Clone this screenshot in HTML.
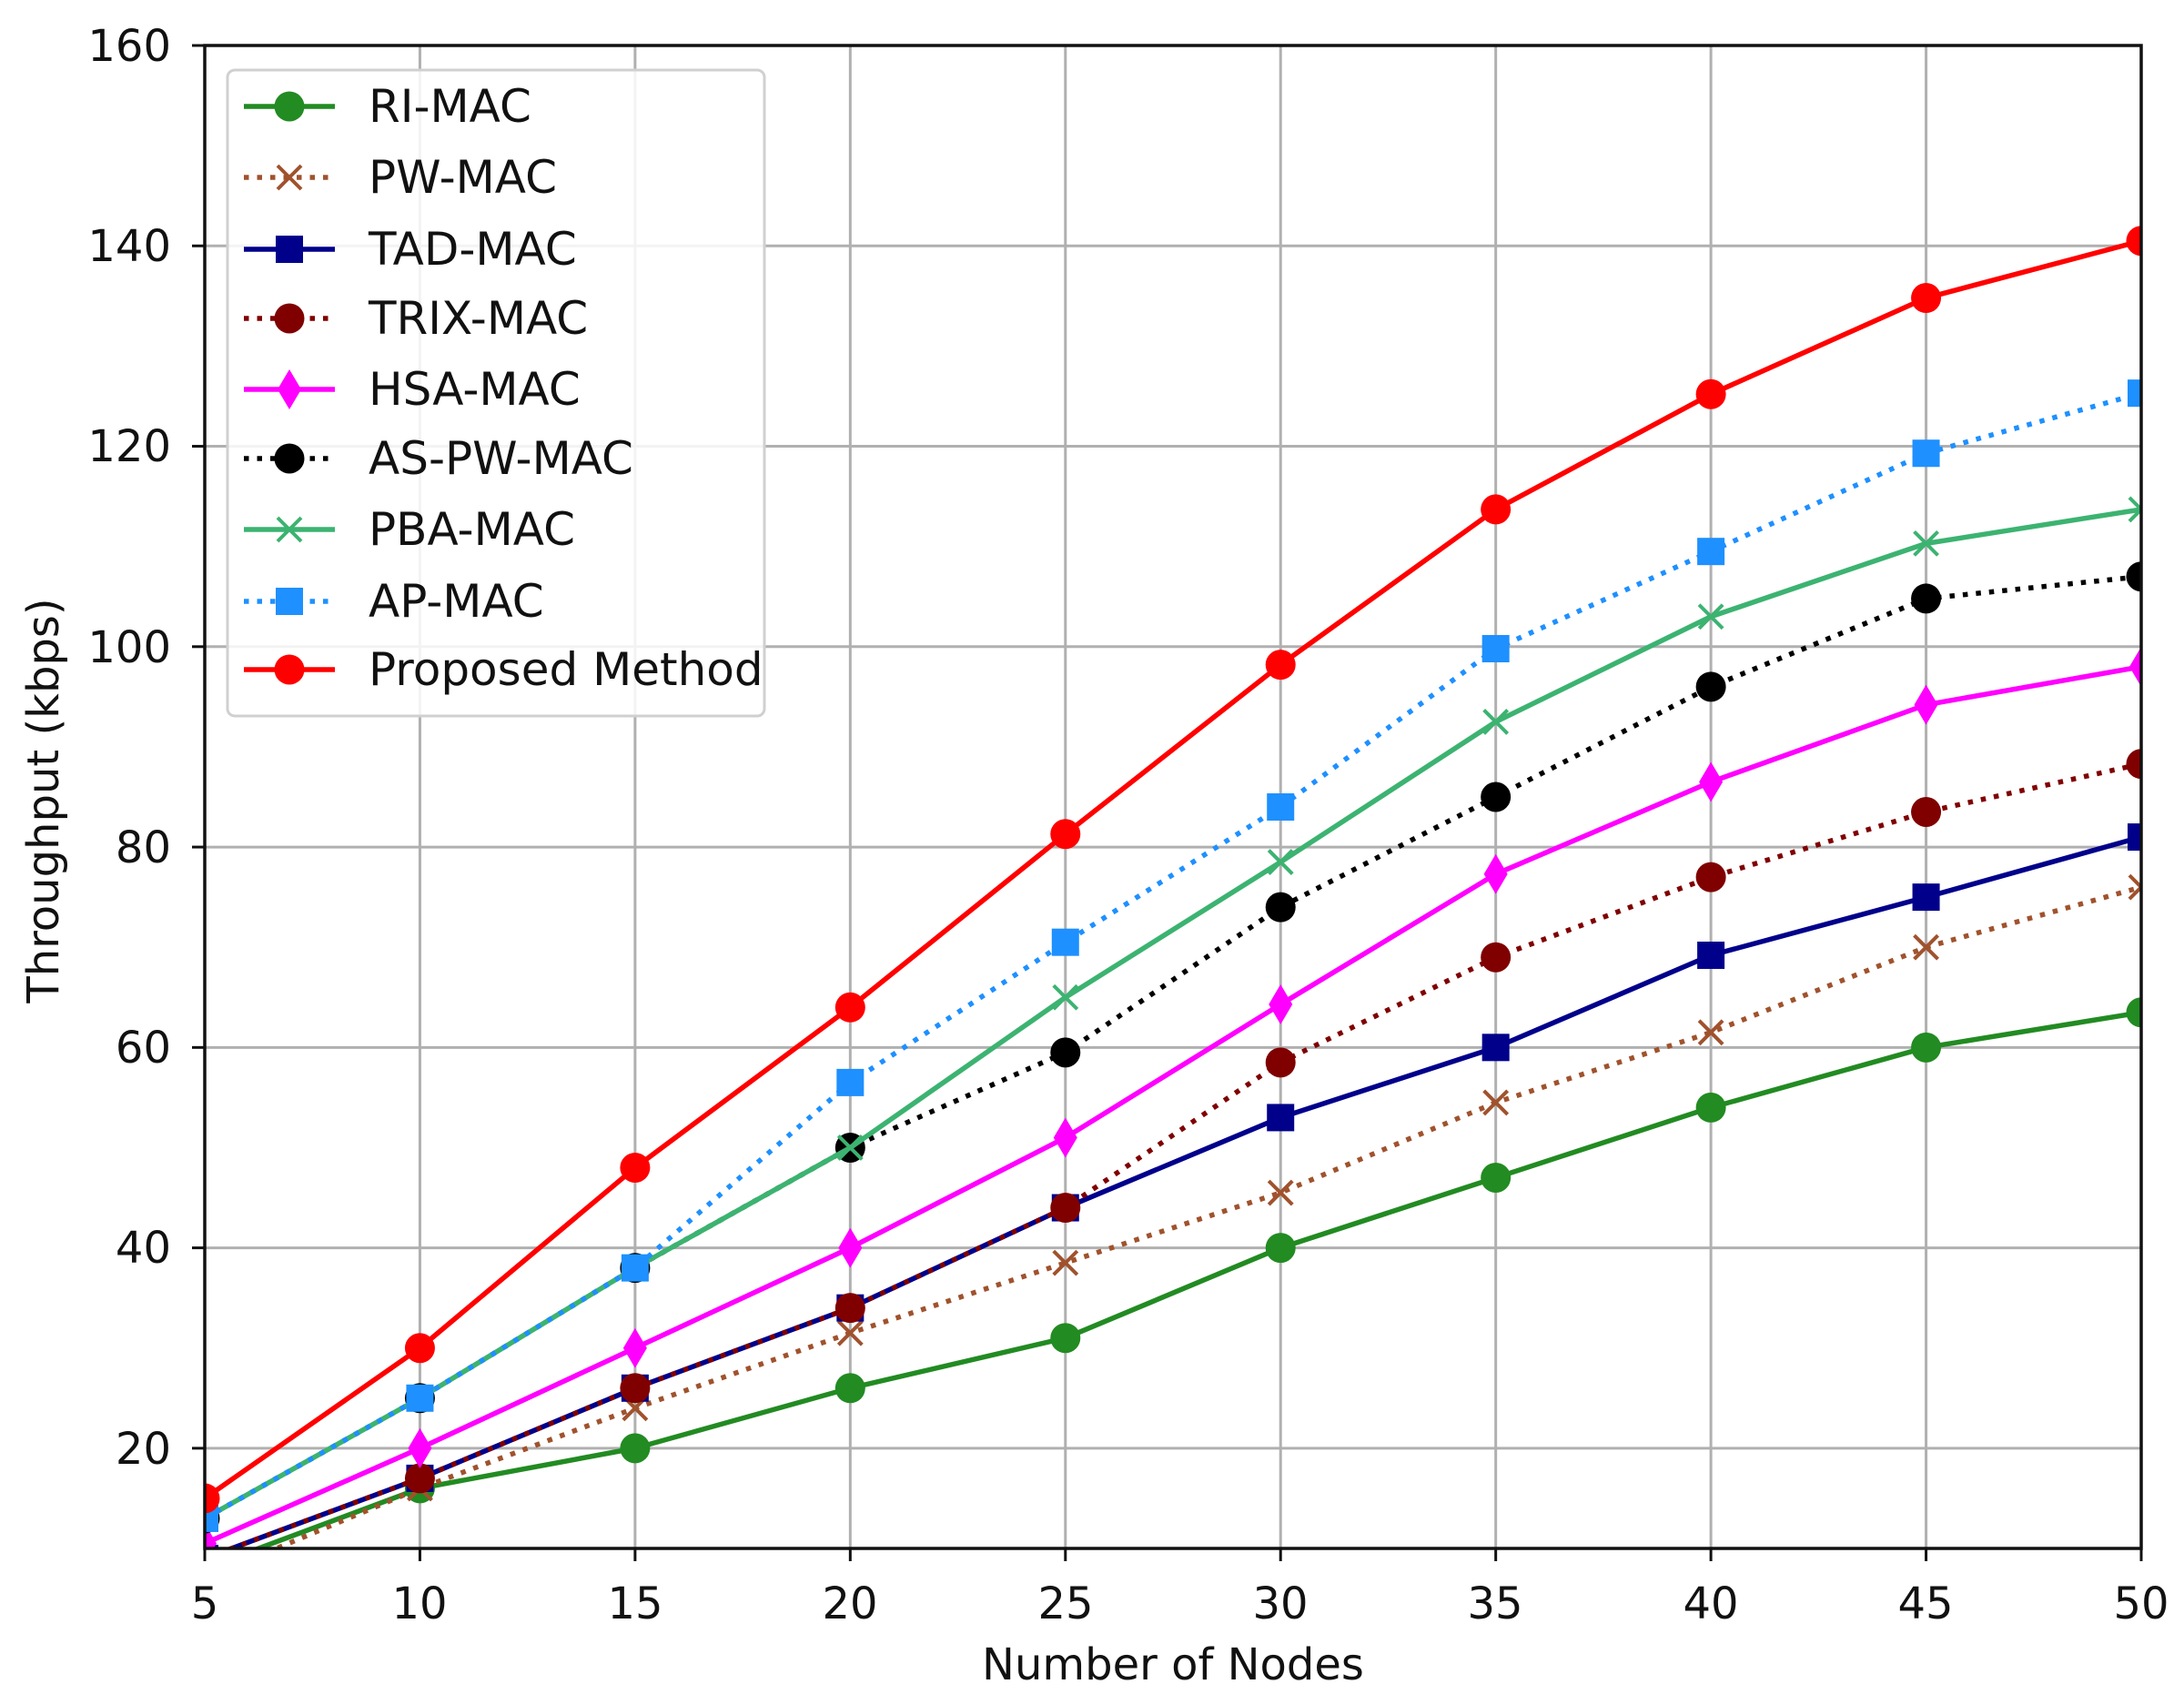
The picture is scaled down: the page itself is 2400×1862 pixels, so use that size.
<!DOCTYPE html>
<html><head><meta charset="utf-8"><style>
html,body{margin:0;padding:0;background:#fff}
svg{display:block}
text{font-family:"DejaVu Sans","Liberation Sans",sans-serif;fill:#111}
</style></head><body>
<svg id="s" width="2400" height="1862" viewBox="0 0 2400 1862" xmlns="http://www.w3.org/2000/svg">
<defs><clipPath id="c"><rect x="225" y="50" width="2128" height="1652"/></clipPath></defs>
<g id="grid" stroke="#b0b0b0" stroke-width="3"></g>
<g id="series" clip-path="url(#c)"></g>
<rect x="225" y="50" width="2128" height="1652" fill="none" stroke="#111" stroke-width="3.5"/>
<g id="ticks" stroke="#111" stroke-width="3"></g>
<g font-size="48" text-anchor="end">
<text x="188" y="67">160</text><text x="188" y="287">140</text><text x="188" y="507">120</text>
<text x="188" y="728">100</text><text x="188" y="948">80</text><text x="188" y="1168">60</text>
<text x="188" y="1388">40</text><text x="188" y="1609">20</text>
</g>
<g font-size="48" text-anchor="middle">
<text x="225" y="1779">5</text><text x="461" y="1779">10</text><text x="698" y="1779">15</text>
<text x="934" y="1779">20</text><text x="1171" y="1779">25</text><text x="1407" y="1779">30</text>
<text x="1643" y="1779">35</text><text x="1880" y="1779">40</text><text x="2116" y="1779">45</text>
<text x="2353" y="1779">50</text>
</g>
<text x="1289" y="1846" font-size="48" text-anchor="middle">Number of Nodes</text>
<text x="0" y="0" font-size="48" text-anchor="middle" transform="translate(64,880) rotate(-90)">Throughput (kbps)</text>
<rect x="250" y="77" width="590" height="710" rx="8" fill="#fff" fill-opacity="0.85" stroke="#d0d0d0" stroke-width="3"/>
<g id="leg"></g>
<g font-size="50">
<text x="405" y="134">RI-MAC</text><text x="405" y="212">PW-MAC</text><text x="405" y="291">TAD-MAC</text>
<text x="405" y="367">TRIX-MAC</text><text x="405" y="445">HSA-MAC</text><text x="405" y="521">AS-PW-MAC</text>
<text x="405" y="599">PBA-MAC</text><text x="405" y="678">AP-MAC</text><text x="405" y="753">Proposed Method</text>
</g>
</svg>
<script>
const NS="http://www.w3.org/2000/svg";
const X=n=>225+(n-5)*2128/45, Y=v=>1702-(v-10)*1652/150;
function el(p,t,a){const e=document.createElementNS(NS,t);for(const k in a)e.setAttribute(k,a[k]);p.appendChild(e);return e;}
const g=document.getElementById('grid'),tk=document.getElementById('ticks');
for(let n=5;n<=50;n+=5){el(g,'line',{x1:X(n),x2:X(n),y1:50,y2:1702});el(tk,'line',{x1:X(n),x2:X(n),y1:1702,y2:1716});}
for(let v=20;v<=160;v+=20){el(g,'line',{x1:225,x2:2353,y1:Y(v),y2:Y(v)});el(tk,'line',{x1:211,x2:225,y1:Y(v),y2:Y(v)});}
const N=[5,10,15,20,25,30,35,40,45,50];
const S=[
['#228B22',0,'o',[8,16,20,26,31,40,47,54,60,63.5]],
['#A0522D',1,'x',[7,16,24,31.5,38.5,45.5,54.5,61.5,70,76]],
['#00008B',0,'s',[9,17,26,34,44,53,60,69.2,75,81]],
['#800000',1,'o',[9,17,26,34,44,58.5,69,77,83.5,88.3]],
['#FF00FF',0,'d',[10.5,20,30,40,51,64.3,77.3,86.5,94.2,98]],
['#000000',1,'o',[13,25,38,50,59.5,74,85,96,104.8,107]],
['#3CB371',0,'x',[13,25,38,50,65,78.5,92.5,103,110.3,113.7]],
['#1E90FF',1,'s',[13,25,38,56.5,70.5,84,99.8,109.5,119.3,125.3]],
['#FF0000',0,'o',[15,30,48,64,81.3,98.2,113.7,125.2,134.8,140.5]]];
function mk(p,c,m,x,y){
 if(m=='o')el(p,'circle',{cx:x,cy:y,r:16.5,fill:c});
 else if(m=='s')el(p,'rect',{x:x-15,y:y-15,width:30,height:30,fill:c});
 else if(m=='d')el(p,'polygon',{points:`${x},${y-22} ${x+13},${y} ${x},${y+22} ${x-13},${y}`,fill:c});
 else el(p,'path',{d:`M${x-13} ${y-13}L${x+13} ${y+13}M${x-13} ${y+13}L${x+13} ${y-13}`,stroke:c,'stroke-width':4,fill:'none'});
}
const sg=document.getElementById('series'),lg=document.getElementById('leg');
const LY=[117,195,274,350,428,504,582,661,736];
S.forEach((s,i)=>{
 const [c,dot,m,d]=s;
 const a={points:d.map((v,j)=>X(N[j])+','+Y(v)).join(' '),fill:'none',stroke:c,'stroke-width':5.5,'stroke-linejoin':'round'};
 if(dot){a['stroke-dasharray']='5.5 9';}
 el(sg,'polyline',a);
 d.forEach((v,j)=>mk(sg,c,m,X(N[j]),Y(v)));
 const la={x1:268,x2:368,y1:LY[i],y2:LY[i],stroke:c,'stroke-width':5.5};
 if(dot)la['stroke-dasharray']='5.5 9';
 el(lg,'line',la);mk(lg,c,m,318,LY[i]);
});
</script>
</body></html>
